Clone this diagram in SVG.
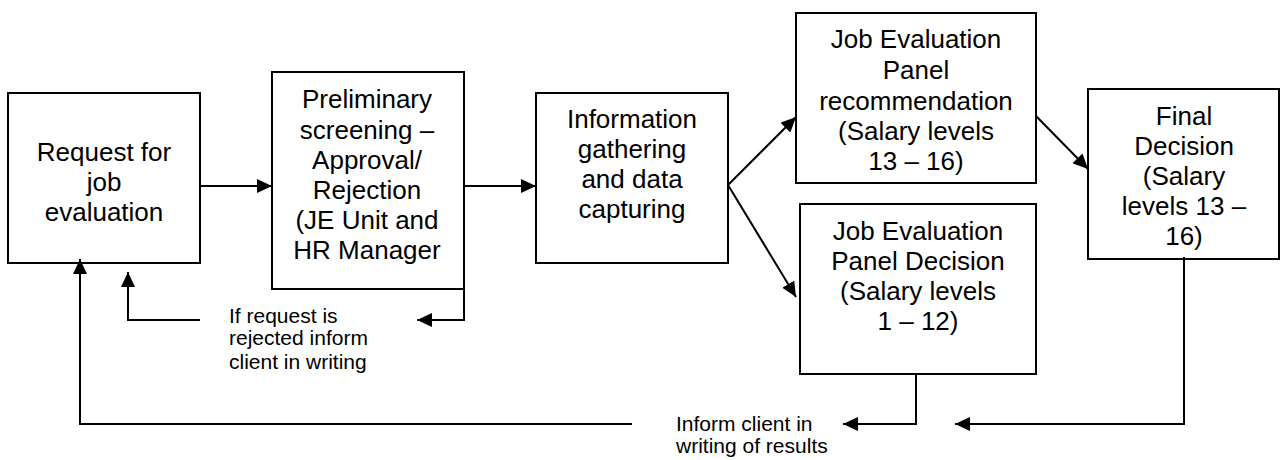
<svg xmlns="http://www.w3.org/2000/svg" width="1281" height="460" viewBox="0 0 1281 460">
  <style>
    .box { fill: #ffffff; stroke: #000000; stroke-width: 2; }
    .lbl { font-family: "Liberation Sans", Arial, sans-serif; font-size: 26px; fill: #000000; text-anchor: middle; }
    .note { font-family: "Liberation Sans", Arial, sans-serif; font-size: 21px; fill: #000000; }
    .wire { fill: none; stroke: #000000; stroke-width: 2; }
  </style>
  <defs>
    <marker id="arrow" markerUnits="userSpaceOnUse" markerWidth="16" markerHeight="14" refX="15" refY="7" orient="auto">
      <path d="M0,0 L15,7 L0,14 Z" fill="#000000"/>
    </marker>
  </defs>
  <rect width="1281" height="460" fill="#ffffff"/>

  <g id="request">
    <rect class="box" x="8" y="93" width="192" height="170"/>
    <text class="lbl" x="104" y="161">Request for</text>
    <text class="lbl" x="104" y="191">job</text>
    <text class="lbl" x="104" y="221">evaluation</text>
  </g>

  <g id="screening">
    <rect class="box" x="272" y="72" width="192" height="217"/>
    <text class="lbl" x="367" y="108">Preliminary</text>
    <text class="lbl" x="367" y="139">screening –</text>
    <text class="lbl" x="367" y="169">Approval/</text>
    <text class="lbl" x="367" y="199">Rejection</text>
    <text class="lbl" x="367" y="229">(JE Unit and</text>
    <text class="lbl" x="367" y="259">HR Manager</text>
  </g>

  <g id="gathering">
    <rect class="box" x="536" y="93" width="192" height="170"/>
    <text class="lbl" x="632" y="128">Information</text>
    <text class="lbl" x="632" y="158">gathering</text>
    <text class="lbl" x="632" y="188">and data</text>
    <text class="lbl" x="632" y="218">capturing</text>
  </g>

  <g id="panel-recommendation">
    <rect class="box" x="796" y="13" width="240" height="170"/>
    <text class="lbl" x="916" y="48">Job Evaluation</text>
    <text class="lbl" x="916" y="79">Panel</text>
    <text class="lbl" x="916" y="110">recommendation</text>
    <text class="lbl" x="916" y="140">(Salary levels</text>
    <text class="lbl" x="916" y="170">13 – 16)</text>
  </g>

  <g id="panel-decision">
    <rect class="box" x="800" y="204" width="236" height="170"/>
    <text class="lbl" x="918" y="240">Job Evaluation</text>
    <text class="lbl" x="918" y="270">Panel Decision</text>
    <text class="lbl" x="918" y="300">(Salary levels</text>
    <text class="lbl" x="918" y="330">1 – 12)</text>
  </g>

  <g id="final-decision">
    <rect class="box" x="1088" y="89" width="191" height="170"/>
    <text class="lbl" x="1184" y="125">Final</text>
    <text class="lbl" x="1184" y="155">Decision</text>
    <text class="lbl" x="1184" y="185">(Salary</text>
    <text class="lbl" x="1184" y="215">levels 13 –</text>
    <text class="lbl" x="1184" y="245">16)</text>
  </g>

  <g id="rejection-note">
    <text class="note" x="229" y="323">If request is</text>
    <text class="note" x="229" y="345">rejected inform</text>
    <text class="note" x="229" y="368.5">client in writing</text>
  </g>

  <g id="results-note">
    <text class="note" x="676" y="431">Inform client in</text>
    <text class="note" x="676" y="453">writing of results</text>
  </g>

  <g id="connectors">
    <!-- main flow -->
    <line class="wire" x1="200" y1="186" x2="272" y2="186" marker-end="url(#arrow)"/>
    <line class="wire" x1="464" y1="186" x2="536" y2="186" marker-end="url(#arrow)"/>
    <line class="wire" x1="728" y1="185" x2="796" y2="117" marker-end="url(#arrow)"/>
    <line class="wire" x1="728" y1="185" x2="796" y2="297" marker-end="url(#arrow)"/>
    <line class="wire" x1="1036" y1="116" x2="1088" y2="169" marker-end="url(#arrow)"/>

    <!-- rejection feedback -->
    <polyline class="wire" points="464,289 464,320 417,320" marker-end="url(#arrow)"/>
    <polyline class="wire" points="200,320 128,320 128,272" marker-end="url(#arrow)"/>

    <!-- results feedback -->
    <polyline class="wire" points="1184,257 1184,424 955,424" marker-end="url(#arrow)"/>
    <polyline class="wire" points="916,374 916,424 843,424" marker-end="url(#arrow)"/>
    <polyline class="wire" points="632,424 80,424 80,259" marker-end="url(#arrow)"/>
  </g>
</svg>
